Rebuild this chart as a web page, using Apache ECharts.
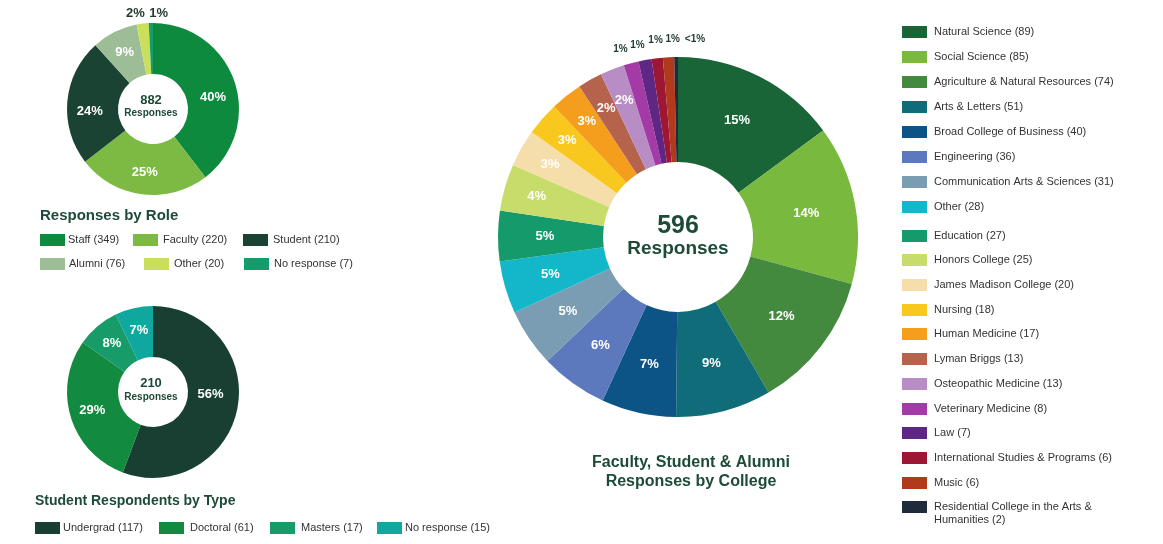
<!DOCTYPE html>
<html>
<head>
<meta charset="utf-8">
<script src="https://cdn.jsdelivr.net/npm/echarts@6/dist/echarts.min.js"></script>
<style>
html,body{margin:0;padding:0;background:#fff;}
#c{width:1163px;height:544px;}
</style>
</head>
<body>
<div id="c"></div>
<script>
// ---- data ----
const roleNames = ['Staff', 'Faculty', 'Student', 'Alumni', 'Other', 'No response'];
const roleValues = [349, 220, 210, 76, 20, 7];
const roleColors = ['#0e8a3e', '#7dba43', '#1b4333', '#9cbd96', '#cadf5c', '#159b6c'];

const studentNames = ['Undergrad', 'Doctoral', 'Masters', 'No response'];
const studentValues = [117, 61, 17, 15];
const studentColors = ['#183f31', '#128a3f', '#169b69', '#10a89e'];

const collegeNames = ['Natural Science', 'Social Science', 'Agriculture & Natural Resources', 'Arts & Letters',
  'Broad College of Business', 'Engineering', 'Communication Arts & Sciences', 'Other', 'Education',
  'Honors College', 'James Madison College', 'Nursing', 'Human Medicine', 'Lyman Briggs',
  'Osteopathic Medicine', 'Veterinary Medicine', 'Law', 'International Studies & Programs', 'Music',
  'Residential College in the Arts &\nHumanities'];
const collegeValues = [89, 85, 74, 51, 40, 36, 31, 28, 27, 25, 20, 18, 17, 13, 13, 8, 7, 6, 6, 2];
const collegeColors = ['#1a6538', '#79b93e', '#438a3f', '#0f6c78', '#0d5486', '#5d79bd', '#7b9db3', '#14b6c9',
  '#159a6c', '#c8dc6c', '#f6deaa', '#f9c81f', '#f59e1d', '#b6634d', '#b88dc6', '#a43aa6', '#5e2783',
  '#9d1634', '#b23a1c', '#1f2a3b'];

// ---- layout / style ----
const DARK = '#1d4b37';
const LEG_TXT = '#333';
const FONT = '"Liberation Sans", Arial, sans-serif';

const ROLE_C = [153, 109], STU_C = [153, 392], COL_C = [678, 237];

// outside label nudges [dx, dy] keyed by data index
const roleOutside = {4: [-6, 0], 5: [8, 0]};
const collegeOutside = {15: [-7, 0], 16: [-5, -1], 17: [0, -4], 18: [5, -4], 19: [19, -4]};
// inside label nudges [dx, dy]
const roleNudge = {0: [0, 9], 2: [0, 8]};
const stuNudge = {0: [-5, -9]};

function pctFmt(p) {
  const v = Math.round(p.percent);
  return v < 1 ? '<1%' : v + '%';
}

function buildData(names, values, colors, outsideMap, outsideSize, outsideLen) {
  return names.map((n, i) => {
    const d = {name: n, value: values[i], itemStyle: {color: colors[i]}};
    if (outsideMap[i]) {
      d.label = {position: 'outside', color: '#1f3a2e', fontSize: outsideSize, distanceToLabelLine: 0};
      d.labelLine = {show: false, length: outsideLen, length2: 0};
    }
    return d;
  });
}

function pieSeries(cfg) {
  const total = cfg.values.reduce((a, b) => a + b, 0);
  return {
    type: 'pie',
    center: cfg.center,
    radius: cfg.radius,
    startAngle: 90,
    clockwise: true,
    avoidLabelOverlap: false,
    silent: true,
    label: {
      show: true, position: 'inside', formatter: pctFmt,
      color: '#fff', fontWeight: 'bold', fontSize: 13, fontFamily: FONT
    },
    labelLine: {show: false},
    labelLayout: function (p) {
      const o = cfg.outside[p.dataIndex];
      if (o) return {align: 'center', verticalAlign: 'middle', dx: o[0], dy: o[1]};
      const n = cfg.nudge[p.dataIndex];
      if (n) return {dx: n[0], dy: n[1]};
      if (cfg.radial) {
        const share = cfg.values[p.dataIndex] / total * 100;
        const R = cfg.radial(share);
        if (R) {
          const lx = p.labelRect.x + p.labelRect.width / 2 - cfg.center[0];
          const ly = p.labelRect.y + p.labelRect.height / 2 - cfg.center[1];
          const len = Math.sqrt(lx * lx + ly * ly) || 1;
          return {x: cfg.center[0] + lx / len * R, y: cfg.center[1] + ly / len * R};
        }
      }
      return {};
    },
    data: buildData(cfg.names, cfg.values, cfg.colors, cfg.outside, cfg.outsideSize, cfg.outsideLen)
  };
}

// ---- legends built from the arrays ----
const graphics = [];
function legendItem(x, yc, color, text, textX) {
  graphics.push({type: 'rect', shape: {x: x, y: yc - 6, width: 25, height: 12}, style: {fill: color}, silent: true});
  graphics.push({type: 'text', x: textX, y: yc, style: {text: text, fill: LEG_TXT, font: '11px ' + FONT, verticalAlign: 'middle'}, silent: true});
}

const roleSwX = [40, 133, 243, 40, 144, 244];
const roleTxX = [68, 163, 273, 69, 174, 274];
const roleRowY = [240, 240, 240, 264, 264, 264];
roleNames.forEach((n, i) => legendItem(roleSwX[i], roleRowY[i], roleColors[i], n + ' (' + roleValues[i] + ')', roleTxX[i]));

const stuSwX = [35, 159, 270, 377];
const stuTxX = [63, 190, 301, 405];
studentNames.forEach((n, i) => legendItem(stuSwX[i], 528, studentColors[i], n + ' (' + studentValues[i] + ')', stuTxX[i]));

const colRowY = [32, 57, 82, 107, 132, 157, 182, 207, 236, 260, 285, 310, 334, 359, 384, 409, 433, 458, 483, 507];
collegeNames.forEach((n, i) => {
  const yc = colRowY[i];
  graphics.push({type: 'rect', shape: {x: 902, y: yc - 6, width: 25, height: 12}, style: {fill: collegeColors[i]}, silent: true});
  const parts = n.split('\n');
  const label = parts.length > 1 ? parts[0] + '\n' + parts[1] + ' (' + collegeValues[i] + ')' : n + ' (' + collegeValues[i] + ')';
  graphics.push({type: 'text', x: 934, y: parts.length > 1 ? yc - 7 : yc,
    style: {text: label, fill: LEG_TXT, font: '11px ' + FONT, verticalAlign: parts.length > 1 ? 'top' : 'middle', lineHeight: 13}, silent: true});
});

function txt(x, y, s, size, align) {
  graphics.push({type: 'text', x: x, y: y, silent: true,
    style: {text: s, fill: DARK, font: 'bold ' + size + 'px ' + FONT, align: align || 'left', verticalAlign: 'middle'}});
}
txt(40, 216, 'Responses by Role', 15);
txt(35, 501, 'Student Respondents by Type', 14);
txt(691, 463, 'Faculty, Student & Alumni', 16, 'center');
txt(691, 482, 'Responses by College', 16, 'center');

const sumRole = roleValues.reduce((a, b) => a + b, 0);
const sumStu = studentValues.reduce((a, b) => a + b, 0);
const sumCol = collegeValues.reduce((a, b) => a + b, 0);
txt(151, 100, String(sumRole), 13, 'center');
txt(151, 113, 'Responses', 10, 'center');
txt(151, 383, String(sumStu), 13, 'center');
txt(151, 397, 'Responses', 10, 'center');
txt(678, 226, String(sumCol), 25, 'center');
txt(678, 249, 'Responses', 19, 'center');

const chart = echarts.init(document.getElementById('c'), null, {renderer: 'canvas'});
chart.setOption({
  backgroundColor: '#fff',
  animation: false,
  series: [
    pieSeries({center: ROLE_C, radius: [35, 86], names: roleNames, values: roleValues, colors: roleColors,
      outside: roleOutside, nudge: roleNudge, outsideSize: 13, outsideLen: 10}),
    pieSeries({center: STU_C, radius: [35, 86], names: studentNames, values: studentValues, colors: studentColors,
      outside: {}, nudge: stuNudge, outsideSize: 13, outsideLen: 10}),
    pieSeries({center: COL_C, radius: [75, 180], names: collegeNames, values: collegeValues, colors: collegeColors,
      outside: collegeOutside, nudge: {}, outsideSize: 10, outsideLen: 14,
      radial: function (share) { return share < 4.5 ? 147 : (share < 6.5 ? 133 : 0); }})
  ],
  graphic: graphics
});
</script>
</body>
</html>
